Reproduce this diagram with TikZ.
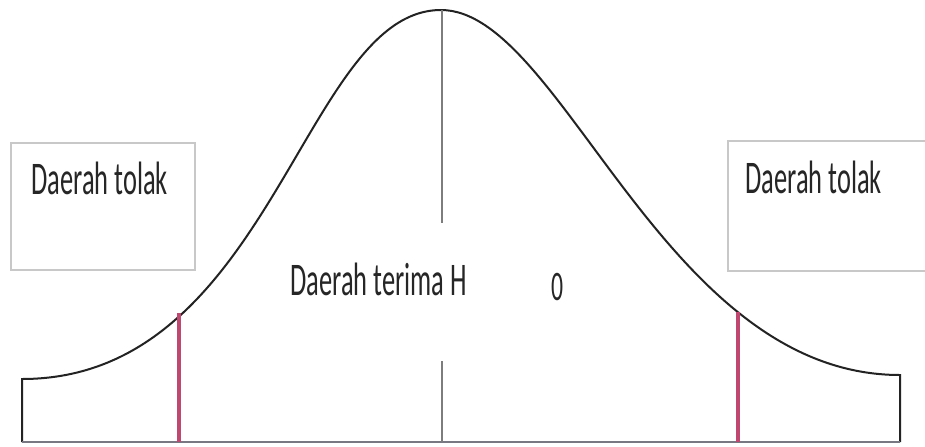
\documentclass[tikz,border=0pt]{standalone}
\usepackage{fontspec}
\setmainfont{Carlito}
\definecolor{curvecol}{RGB}{35,35,35}
\definecolor{pinkcol}{RGB}{192,72,112}
\definecolor{axiscol}{RGB}{120,120,130}
\definecolor{boxcol}{RGB}{200,200,200}
\definecolor{midcol}{RGB}{125,125,125}
\tikzset{
  curveline/.style={draw=curvecol, line width=1pt},
  critline/.style={draw=pinkcol, line width=2pt},
  midline/.style={draw=midcol, line width=1.2pt},
  baseline/.style={draw=axiscol, line width=1.1pt},
  labelbox/.style={draw=boxcol, line width=0.8pt, fill=white},
  lbl/.style={inner sep=0pt, anchor=base west, font=\fontsize{23.4}{26}\selectfont, text=black!85},
}
\begin{document}
\begin{tikzpicture}[x=0.5pt,y=-0.5pt]
\clip (0,0) rectangle (925,446);
\fill[white] (0,0) rectangle (925,446);
% boxes
\draw[labelbox] (11,143) rectangle (195,270);
\draw[labelbox] (728,141) rectangle (940,271);
\node[lbl] (lt) at (31,194) {\scalebox{0.565}[1]{Daerah tolak}};
\node[lbl] (rt) at (745,193) {\scalebox{0.565}[1]{Daerah tolak}};
% curve
\coordinate (L) at (22,379);
\coordinate (P) at (441,10);
\coordinate (R) at (900,375);
\coordinate (LB) at (22,442);
\coordinate (RB) at (900,442);
\draw[curveline] (LB) -- (L) .. controls (272,379) and (303,10) .. (P)
  .. controls (562,10) and (663,375) .. (R) -- (RB);
\draw[baseline] (LB) -- (RB);
% center line
\coordinate (C1) at (442,10);
\coordinate (C2) at (442,223);
\coordinate (C3) at (442,361);
\coordinate (C4) at (442,442);
\draw[midline] (C1) -- (C2);
\draw[midline] (C3) -- (C4);
% critical lines
\coordinate (K1t) at (179,313);
\coordinate (K1b) at (179,442);
\coordinate (K2t) at (738,312);
\coordinate (K2b) at (738,442);
\draw[critline] (K1t) -- (K1b);
\draw[critline] (K2t) -- (K2b);
% texts
\node[lbl] (mid) at (290,295) {\scalebox{0.565}[1]{Daerah terima H}};
\node[lbl, font=\fontsize{21}{24}\selectfont] (sub) at (551,300) {\scalebox{0.565}[1]{0}};
\end{tikzpicture}
\end{document}
